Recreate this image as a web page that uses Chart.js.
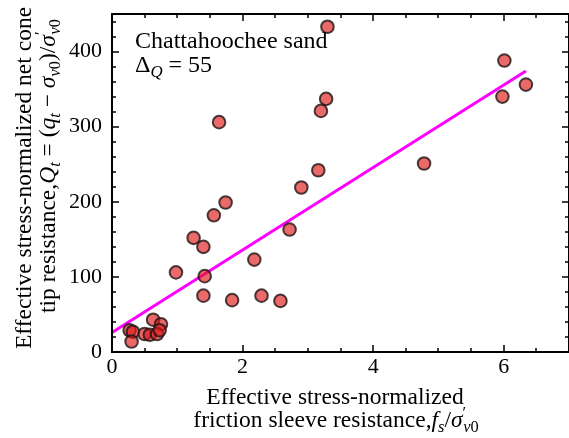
<!DOCTYPE html>
<html>
<head>
<meta charset="utf-8">
<script src="https://cdn.jsdelivr.net/npm/chart.js@4"></script>
<style>
  html, body { margin: 0; padding: 0; background: #fff; }
</style>
</head>
<body>
<canvas id="myChart" width="569" height="438"></canvas>
<script>
// friction sleeve resistance fs/sigma'v0 and net cone tip resistance Qt
const fsValues = [3.30, 1.64, 3.28, 3.20, 3.16, 6.01, 5.98, 6.34, 4.78, 2.90, 1.56,
                  1.74, 1.25, 1.40, 2.72, 2.18, 0.98, 1.42, 1.40, 1.84, 2.29, 2.58,
                  0.63, 0.75, 0.27, 0.32, 0.30, 0.50, 0.58, 0.69, 0.73]
const qtValues = [433, 306, 337, 321, 242, 388, 340, 356, 251, 219, 182,
                  199, 152, 140, 163, 123, 106, 101, 75, 69, 75, 68,
                  43, 37, 29, 27, 14, 24, 23, 24, 29]
// fitted trend line end points
const fitX = [0, 6.34]
const fitY = [26, 374]
const xTicks = [0, 2, 4, 6]
const yTicks = [0, 100, 200, 300, 400]

const FONT = '"Liberation Serif", "DejaVu Serif", serif'
const TICK = 22
const TITLE = 23.5

// draws a line of text made of segments (normal / italic / sub / sup)
function richWidth(ctx, segs, size){
    let w = 0
    for (const s of segs){
        const sz = s.s ? size * 0.7 : size
        ctx.font = (s.i ? 'italic ' : '') + sz + 'px ' + FONT
        w += ctx.measureText(s.t).width + (s.gap || 0)
    }
    return w
}
function drawRich(ctx, segs, x, y, size, align){
    let cx = align === 'left' ? x : x - richWidth(ctx, segs, size) / 2
    ctx.textBaseline = 'middle'
    ctx.textAlign = 'left'
    for (const s of segs){
        const sz = s.s ? size * 0.7 : size
        ctx.font = (s.i ? 'italic ' : '') + sz + 'px ' + FONT
        let dy = 0
        if (s.s === 'sub') dy = size * 0.28
        if (s.s === 'sup') dy = -size * 0.3
        ctx.fillText(s.t, cx, y + dy)
        cx += ctx.measureText(s.t).width + (s.gap || 0)
    }
}

const sigmaP = [{t:'σ', i:true}, {t:'′', s:'sup', gap:-3}, {t:'v', i:true, s:'sub'}, {t:'0', s:'sub'}]

const frame = {
    id: 'frame',
    afterDraw(chart){
        const ctx = chart.ctx
        const a = chart.chartArea
        const xs = chart.scales.x, ys = chart.scales.y
        ctx.save()
        ctx.strokeStyle = '#000'
        // inward ticks on all four sides
        ctx.lineWidth = 1.5
        ctx.beginPath()
        for (let v = 0; v <= 7.001; v += 0.5){
            const px = Math.round(xs.getPixelForValue(v))
            const len = Math.abs(v % 2) < 1e-6 ? 7 : 4
            ctx.moveTo(px, a.bottom); ctx.lineTo(px, a.bottom - len)
            ctx.moveTo(px, a.top); ctx.lineTo(px, a.top + len)
        }
        for (let v = 0; v <= 450; v += 20){
            const py = Math.round(ys.getPixelForValue(v))
            const len = v % 100 === 0 ? 7 : 4
            ctx.moveTo(a.left, py); ctx.lineTo(a.left + len, py)
            ctx.moveTo(a.right, py); ctx.lineTo(a.right - len, py)
        }
        ctx.stroke()
        ctx.lineWidth = 2
        ctx.strokeRect(a.left, a.top, a.right - a.left, a.bottom - a.top)

        ctx.fillStyle = '#000'
        // annotation
        drawRich(ctx, [{t:'Chattahoochee sand'}], 135, 42, 24, 'left')
        drawRich(ctx, [{t:'Δ'}, {t:'Q', i:true, s:'sub'}, {t:' = 55'}], 135, 66, 24, 'left')
        // x title
        drawRich(ctx, [{t:'Effective stress-normalized'}], 335, 398, TITLE)
        drawRich(ctx, [{t:'friction sleeve resistance,'}, {t:'f', i:true}, {t:'s', i:true, s:'sub'}, {t:'/'}].concat(sigmaP), 336, 421, TITLE)
        // y title
        ctx.save()
        ctx.translate(25, 178)
        ctx.rotate(-Math.PI / 2)
        drawRich(ctx, [{t:'Effective stress-normalized net cone'}], 0, 0, TITLE)
        ctx.restore()
        ctx.save()
        ctx.translate(49, 166)
        ctx.rotate(-Math.PI / 2)
        drawRich(ctx, [{t:'tip resistance,'}, {t:'Q', i:true}, {t:'t', i:true, s:'sub'}, {t:' = ('}, {t:'q', i:true}, {t:'t', i:true, s:'sub'},
            {t:' − '}, {t:'σ', i:true}, {t:'v', i:true, s:'sub'}, {t:'0', s:'sub'}, {t:')/'}].concat(sigmaP), 0, 0, TITLE)
        ctx.restore()
        ctx.restore()
    }
}

const data = {
    datasets: [
        {
            type: 'scatter',
            data: fsValues.map((x, i) => ({x: x, y: qtValues[i]})),
            backgroundColor: 'rgba(222, 24, 24, 0.65)',
            borderColor: 'rgba(30, 20, 20, 0.8)',
            borderWidth: 2,
            pointRadius: 6.3,
            order: 0
        },
        {
            type: 'line',
            data: fitX.map((x, i) => ({x: x, y: fitY[i]})),
            borderColor: '#ff00ff',
            borderWidth: 3,
            pointRadius: 0,
            fill: false,
            order: 1
        }
    ]
}

const options = {
    responsive: false,
    animation: false,
    layout: { autoPadding: false, padding: { top: 14, right: 0, left: 0, bottom: 0 } },
    scales: {
        x: {
            type: 'linear', min: 0, max: 7,
            afterBuildTicks: s => { s.ticks = xTicks.map(v => ({value: v})) },
            afterFit: s => { s.height = 86; s.paddingLeft = 0; s.paddingRight = 0 },
            ticks: { color: '#000', font: {family: FONT, size: TICK}, padding: 2 },
            grid: { display: false, drawTicks: false },
            border: { display: false }
        },
        y: {
            type: 'linear', min: 0, max: 450,
            afterBuildTicks: s => { s.ticks = yTicks.map(v => ({value: v})) },
            afterFit: s => { s.width = 112; s.paddingTop = 0; s.paddingBottom = 0 },
            ticks: { color: '#000', font: {family: FONT, size: TICK}, padding: 10 },
            grid: { display: false, drawTicks: false },
            border: { display: false }
        }
    },
    plugins: {
        legend: { display: false },
        tooltip: { enabled: false }
    }
}

const myChart = new Chart(document.getElementById('myChart'), {
    type: 'scatter',
    data,
    options,
    plugins: [frame]
})
</script>
</body>
</html>
